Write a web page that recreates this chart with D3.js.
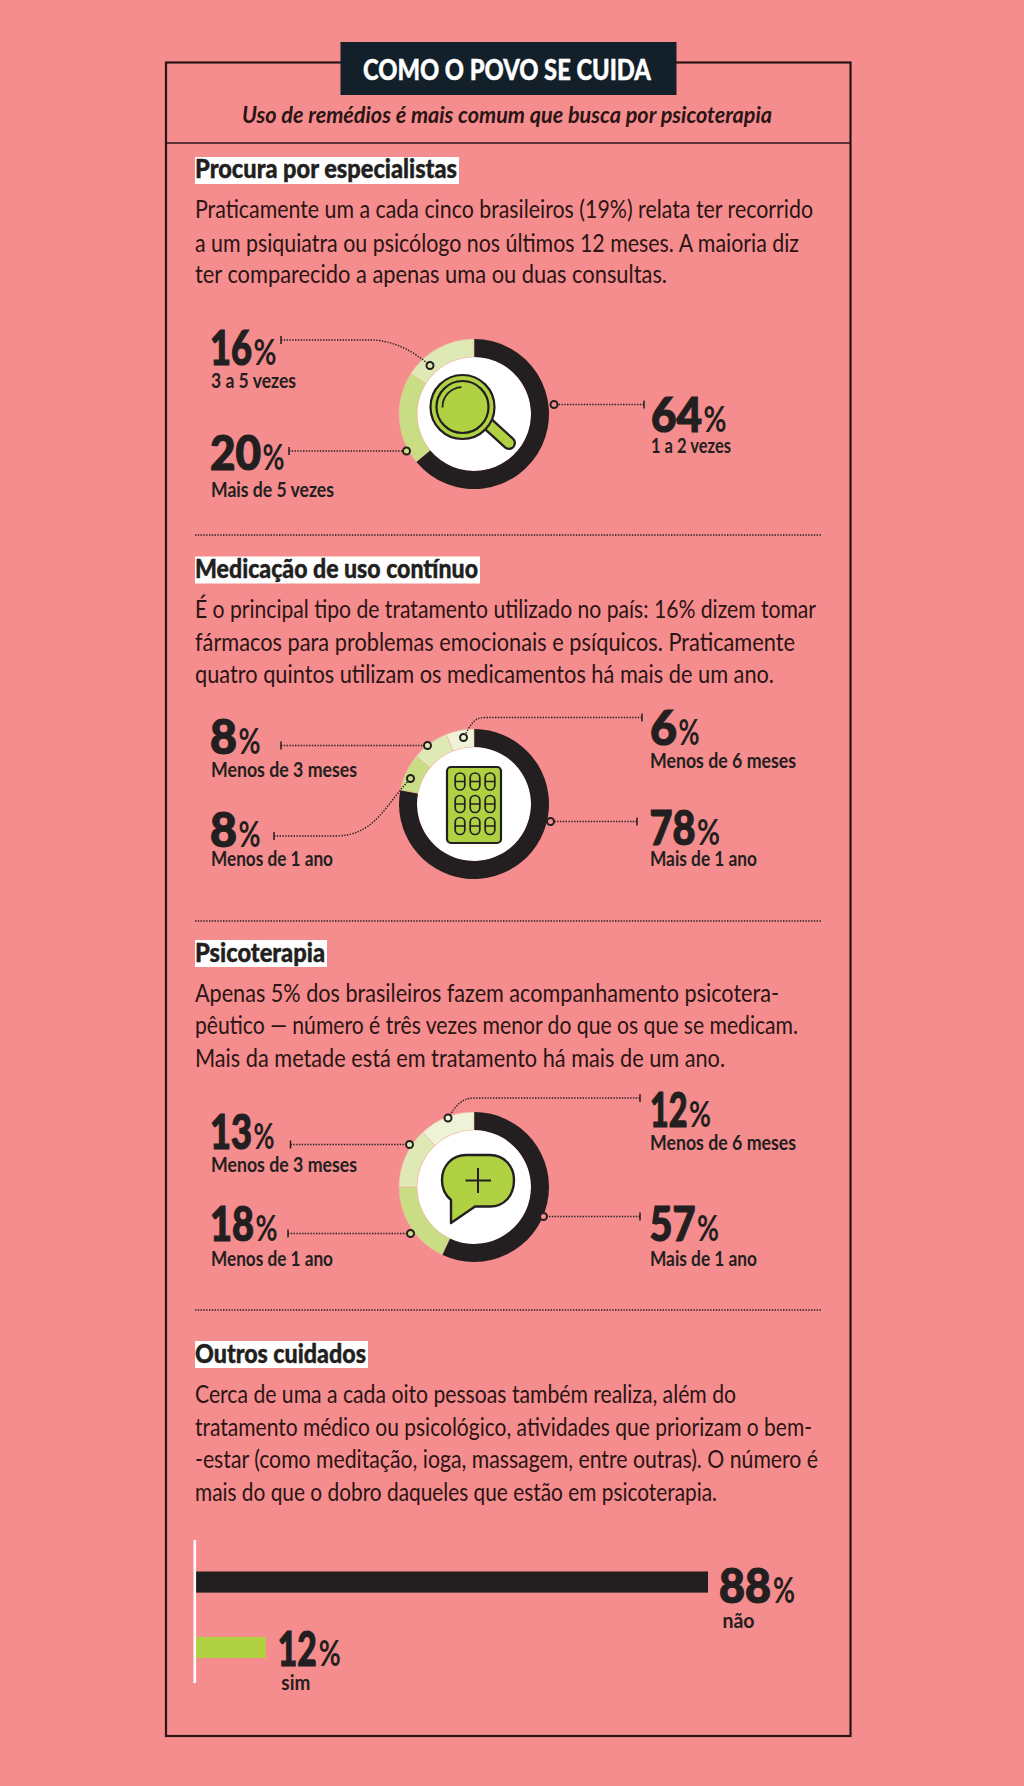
<!DOCTYPE html>
<html>
<head>
<meta charset="utf-8">
<script src="https://cdn.jsdelivr.net/npm/d3@7"></script>
<style>
html,body{margin:0;padding:0;background:#f58c8d;}
svg{display:block;}
text{font-family:Lato,"Open Sans",sans-serif;fill:#231f20;}
.body{font-size:24.5px;font-weight:400;fill:#2a1414;}
.head{font-size:26px;font-weight:900;stroke:#231f20;stroke-width:.4px;}
.num{font-size:47px;font-weight:900;stroke:#231f20;stroke-width:1.2px;}
.pct{font-size:37px;font-weight:700;}
.lab{font-size:21px;font-weight:700;}
</style>
</head>
<body>
<svg id="chart" width="1024" height="1786"></svg>
<script>
// data ----------------------------------------------
var titulo = "COMO O POVO SE CUIDA";
var subtitulo = "Uso de remédios é mais comum que busca por psicoterapia";

var secoes = ["Procura por especialistas","Medicação de uso contínuo","Psicoterapia","Outros cuidados"];

var texto1 = ["Praticamente um a cada cinco brasileiros (19%) relata ter recorrido",
  "a um psiquiatra ou psicólogo nos últimos 12 meses. A maioria diz",
  "ter comparecido a apenas uma ou duas consultas."];
var texto2 = ["É o principal tipo de tratamento utilizado no país: 16% dizem tomar",
  "fármacos para problemas emocionais e psíquicos. Praticamente",
  "quatro quintos utilizam os medicamentos há mais de um ano."];
var texto3 = ["Apenas 5% dos brasileiros fazem acompanhamento psicotera-",
  "pêutico — número é três vezes menor do que os que se medicam.",
  "Mais da metade está em tratamento há mais de um ano."];
var texto4 = ["Cerca de uma a cada oito pessoas também realiza, além do",
  "tratamento médico ou psicológico, atividades que priorizam o bem-",
  "-estar (como meditação, ioga, massagem, entre outras). O número é",
  "mais do que o dobro daqueles que estão em psicoterapia."];

var categorias1 = ["1 a 2 vezes","Mais de 5 vezes","3 a 5 vezes"];
var valores1 = [64,20,16];
var categorias2 = ["Mais de 1 ano","Menos de 1 ano","Menos de 3 meses","Menos de 6 meses"];
var valores2 = [78,8,8,6];
var categorias3 = ["Mais de 1 ano","Menos de 1 ano","Menos de 3 meses","Menos de 6 meses"];
var valores3 = [57,18,13,12];
var categorias4 = ["não","sim"];
var valores4 = [88,12];

// layout --------------------------------------------
var escuro = "#231f20", verde = "#afd142";
var tons = [escuro,"#c9dd85","#dfe9b6","#eef3d8"];

var svg = d3.select("#chart");
var W = 1024, H = 1786;

svg.append("rect").attr("width",W).attr("height",H).attr("fill","#f58c8d");

var ajuste = {num:-1,lab:0,head:-1,pct:-1,body:0};
function fit(g,str,x,y,w,cls){
  return g.append("text").attr("class",cls).attr("x",x+ajuste[cls]).attr("y",y)
    .attr("textLength",w).attr("lengthAdjust","spacingAndGlyphs").text(str);
}

// frame
svg.append("rect").attr("x",166).attr("y",62.5).attr("width",684.5).attr("height",1673.5)
  .attr("fill","none").attr("stroke","#2a1414").attr("stroke-width",2.2);
svg.append("line").attr("x1",166).attr("x2",850).attr("y1",143).attr("y2",143)
  .attr("stroke","#2a1414").attr("stroke-width",1.6);
svg.append("rect").attr("x",340.5).attr("y",42).attr("width",336).attr("height",53).attr("fill","#13202a");
fit(svg,titulo,364,80,288,"head").style("fill","#fff").style("stroke","#fff").style("font-size","29px");
fit(svg,subtitulo,242,123,530,"body").style("font-style","italic").style("font-weight",700).style("font-size","23px");

// section headers and body text
var cabecalhos = [
  {x:195,x2:459,y:157,b:178},
  {x:195,x2:480,y:556.5,b:577.5},
  {x:195,x2:327,y:940,b:961.5},
  {x:195,x2:368,y:1341,b:1362.5}
];
secoes.forEach(function(s,i){
  var c = cabecalhos[i];
  svg.append("rect").attr("x",c.x).attr("y",c.y).attr("width",c.x2-c.x).attr("height",27).attr("fill","#fff");
  fit(svg,s,c.x+1,c.b,c.x2-c.x-2,"head");
});

var blocos = [
  {linhas:texto1,base:[218,251.5,283],fim:[813,799,667]},
  {linhas:texto2,base:[617.5,650.5,682.5],fim:[816,795,774]},
  {linhas:texto3,base:[1001.5,1034,1066.5],fim:[779,798,725]},
  {linhas:texto4,base:[1402.5,1435.5,1468,1500.5],fim:[736,812,818,717]}
];
blocos.forEach(function(b){
  b.linhas.forEach(function(l,i){ fit(svg,l,195,b.base[i],b.fim[i]-195,"body"); });
});

// dotted separators
[535,921,1310].forEach(function(y){
  svg.append("line").attr("x1",195).attr("x2",822).attr("y1",y).attr("y2",y)
    .attr("stroke",escuro).attr("stroke-width",1.4).attr("stroke-dasharray","1.4 1.4");
});

// donuts
var pie = d3.pie().sort(null).value(function(d){return d;});
var arc = d3.arc().innerRadius(57).outerRadius(75);

function donut(cx,cy,valores,categorias,callouts){
  var g = svg.append("g").attr("transform","translate("+cx+","+cy+")");
  g.append("circle").attr("r",57).attr("fill","#fff");
  g.selectAll("path.fatia").data(pie(valores)).enter().append("path")
    .attr("class","fatia")
    .attr("d",arc)
    .attr("data-cat",function(d,i){return categorias[i];})
    .attr("fill",function(d,i){return tons[i];})
    .attr("stroke",function(d,i){return i==0?"none":"#f0b79f";})
    .attr("stroke-width",0.6);

  categorias.forEach(function(cat,i){
    var c = callouts[i];
    var p = d3.path();
    p.moveTo(c.tick[0],c.tick[1]);
    if(c.bend){
      p.lineTo(c.bend[0],c.bend[1]);
      p.bezierCurveTo(c.c1[0],c.c1[1],c.c2[0],c.c2[1],c.dot[0],c.dot[1]);
    }else{
      p.lineTo(c.dot[0],c.dot[1]);
    }
    svg.append("path").attr("d",p.toString()).attr("fill","none")
      .attr("stroke",escuro).attr("stroke-width",1.4).attr("stroke-dasharray","1.4 1.4");
    svg.append("line").attr("x1",c.tick[0]).attr("x2",c.tick[0])
      .attr("y1",c.tick[1]-4).attr("y2",c.tick[1]+4)
      .attr("stroke",escuro).attr("stroke-width",1.5);
    svg.append("circle").attr("cx",c.dot[0]).attr("cy",c.dot[1]).attr("r",3.5)
      .attr("fill",tons[i]==escuro?"#f58c8d":tons[i]).attr("stroke",escuro).attr("stroke-width",2);
    fit(svg,String(valores[i]),c.num[0],c.num[1],c.nw,"num");
    fit(svg,"%",c.num[0]+c.nw+1.5,c.num[1],c.pw,"pct");
    fit(svg,cat,c.lab[0],c.lab[1],c.lw,"lab");
  });
  return g;
}

donut(474,414,valores1,categorias1,[
  {dot:[554,404.5],tick:[644,404.5],num:[652,431.5],nw:51,pw:23,lab:[651,453],lw:80},
  {dot:[406.5,451],tick:[289,451],num:[211,470],nw:51,pw:22,lab:[211,496.5],lw:123},
  {dot:[430,365.5],tick:[281,340],bend:[370,340],c1:[392,340],c2:[412,350],num:[211,365],nw:42,pw:23,lab:[211,388],lw:85}
]);
donut(474,804,valores2,categorias2,[
  {dot:[550.5,821.5],tick:[637,821.5],num:[650.5,845],nw:46,pw:23,lab:[650,866],lw:107},
  {dot:[410.5,778.5],tick:[274,836],bend:[335,836],c1:[375,836],c2:[385,805],num:[211,846.5],nw:27,pw:22,lab:[211,866],lw:122},
  {dot:[427.5,745.5],tick:[281,745.5],num:[211,754],nw:27,pw:22,lab:[211,776.5],lw:146},
  {dot:[463.5,737.5],tick:[642,717.5],bend:[485,717.5],c1:[475,717.5],c2:[472,722],num:[651,745],nw:27,pw:21,lab:[650,768],lw:146}
]);
donut(474,1187,valores3,categorias3,[
  {dot:[543.5,1216.5],tick:[640,1216.5],num:[650.5,1241],nw:46,pw:22,lab:[650,1266],lw:107},
  {dot:[410.5,1233.5],tick:[288,1233.5],num:[211,1241],nw:44,pw:22,lab:[211,1266],lw:122},
  {dot:[409.5,1144.5],tick:[290.5,1144.5],num:[211,1149],nw:42,pw:21,lab:[211,1171.5],lw:146},
  {dot:[448,1118],tick:[640,1098],bend:[474,1098],c1:[462,1098],c2:[456,1105],num:[651,1127],nw:37.5,pw:22,lab:[650,1150],lw:146}
]);

// icons
function capsula(x,y){
  var p = svg.append("g");
  p.append("rect").attr("x",x-4.8).attr("y",y-8.5).attr("width",9.6).attr("height",17).attr("rx",4.8)
    .attr("fill","none").attr("stroke",escuro).attr("stroke-width",1.7);
  p.append("line").attr("x1",x-4.8).attr("x2",x+4.8).attr("y1",y).attr("y2",y)
    .attr("stroke",escuro).attr("stroke-width",1.5);
}
// magnifier
var lupa = svg.append("g").attr("stroke",escuro).attr("stroke-width",2.2);
lupa.append("line").attr("x1",487).attr("y1",423).attr("x2",509).attr("y2",443)
  .attr("stroke-width",14).attr("stroke-linecap","round");
lupa.append("line").attr("x1",487).attr("y1",423).attr("x2",509).attr("y2",443)
  .attr("stroke",verde).attr("stroke-width",9.5).attr("stroke-linecap","round");
lupa.append("circle").attr("cx",462.5).attr("cy",407).attr("r",32).attr("fill",verde);
lupa.append("circle").attr("cx",462.5).attr("cy",407).attr("r",26).attr("fill",verde);
lupa.append("path").attr("fill","none").attr("stroke-width",1.8)
  .attr("d",d3.arc()({innerRadius:20,outerRadius:20,startAngle:-1.6,endAngle:-0.05})).attr("transform","translate(462.5,407)");

// pill pack
svg.append("rect").attr("x",447).attr("y",767).attr("width",54).attr("height",76).attr("rx",4)
  .attr("fill",verde).attr("stroke",escuro).attr("stroke-width",2.2);
[781.5,804,826].forEach(function(y){
  [460,475,490].forEach(function(x){ capsula(x,y); });
});

// speech bubble
var balao = d3.path();
balao.moveTo(466,1155);
balao.lineTo(490,1155);
balao.bezierCurveTo(504,1155,514,1166,514,1180);
balao.bezierCurveTo(514,1196,504,1206.5,490,1206.5);
balao.lineTo(475,1206.5);
balao.lineTo(451,1223);
balao.lineTo(451,1200);
balao.bezierCurveTo(445,1195,442,1188,442,1180);
balao.bezierCurveTo(442,1166,452,1155,466,1155);
balao.closePath();
svg.append("path").attr("d",balao.toString()).attr("fill",verde)
  .attr("stroke",escuro).attr("stroke-width",2.4).attr("stroke-linejoin","round");
svg.append("path").attr("d","M465.5,1180.5H491M478,1168V1193")
  .attr("stroke",escuro).attr("stroke-width",2).attr("fill","none");

// bars
var x = d3.scaleLinear().domain([0,88]).range([196,708]);
var y = d3.scaleBand().domain(categorias4).range([1571.5,1658]).paddingInner(0.677).paddingOuter(0);

var rotulosBarra = [{nw:52,pw:22,dx:12,dy:31.5,lx:14.5,ly:56.5,lw:32},{nw:39,pw:22,dx:13,dy:29,lx:15.5,ly:53,lw:29}];

svg.selectAll("rect.barra").data(valores4).enter().append("rect")
  .attr("class","barra")
  .attr("x",x(0))
  .attr("y",function(d,i){return y(categorias4[i]);})
  .attr("width",function(d){return x(d)-x(0);})
  .attr("height",y.bandwidth())
  .attr("fill",function(d,i){return i==0?escuro:verde;});

svg.append("line").attr("x1",194.8).attr("x2",194.8).attr("y1",1540).attr("y2",1683)
  .attr("stroke","#fff").attr("stroke-width",2.6);

valores4.forEach(function(v,i){
  var r = rotulosBarra[i], x0 = x(v), y0 = y(categorias4[i]);
  fit(svg,String(v),x0+r.dx,y0+r.dy,r.nw,"num");
  fit(svg,"%",x0+r.dx+r.nw+2,y0+r.dy,r.pw,"pct");
  fit(svg,categorias4[i],x0+r.lx,y0+r.ly,r.lw,"lab");
});
</script>
</body>
</html>
